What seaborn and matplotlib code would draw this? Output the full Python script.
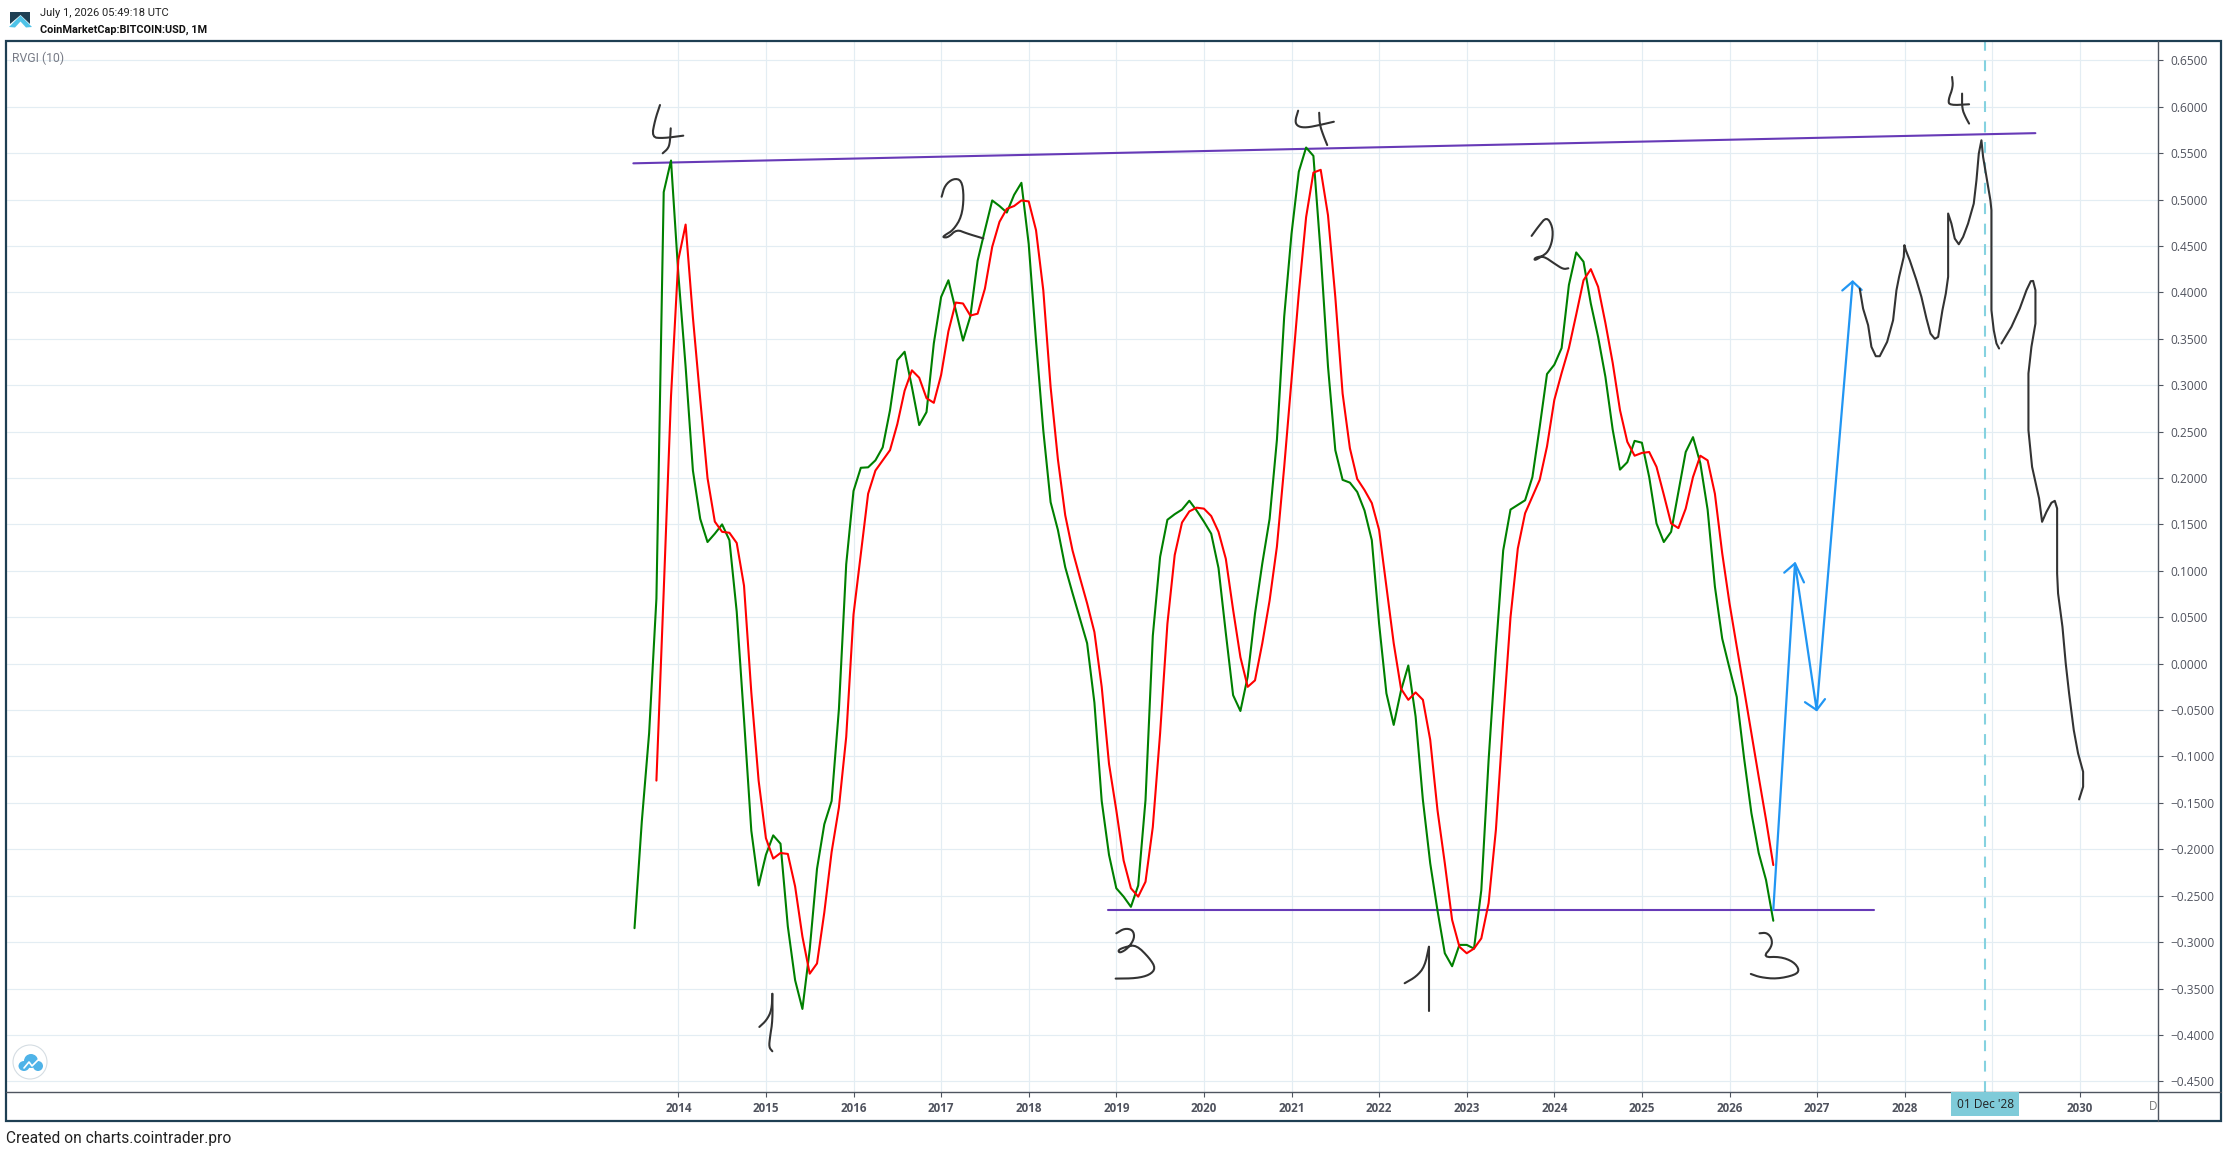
import numpy as np
import pandas as pd
import matplotlib
matplotlib.use("Agg")
import matplotlib.pyplot as plt
from matplotlib.lines import Line2D
from matplotlib.patches import Rectangle, Polygon, Ellipse
import seaborn as sns

# ---- data: monthly RVGI (10), bars counted from Jan 2014 = 0 ----
green_bars_start = -6
green_rvgi = [
    -0.285, -0.17, -0.075, 0.07, 0.508, 0.542,
    0.42, 0.32, 0.208, 0.156, 0.131, 0.14, 0.15, 0.133, 0.056, -0.06, -0.18, -0.239,
    -0.206, -0.185, -0.194, -0.283, -0.341, -0.372, -0.308, -0.221, -0.173, -0.148, -0.049, 0.107,
    0.186, 0.211, 0.2115, 0.219, 0.233, 0.273, 0.327, 0.336, 0.298, 0.257, 0.271, 0.345,
    0.395, 0.413, 0.381, 0.348, 0.374, 0.434, 0.467, 0.499, 0.493, 0.486, 0.505, 0.518,
    0.452, 0.348, 0.251, 0.174, 0.144, 0.104, 0.076, 0.049, 0.022, -0.042, -0.148, -0.206,
    -0.242, -0.251, -0.262, -0.239, -0.147, 0.03, 0.115, 0.155, 0.161, 0.166, 0.1755, 0.165,
    0.153, 0.14, 0.103, 0.033, -0.034, -0.051, -0.014, 0.054, 0.108, 0.156, 0.241, 0.374,
    0.463, 0.53, 0.556, 0.547, 0.442, 0.32, 0.23, 0.198, 0.195, 0.185, 0.165, 0.133,
    0.043, -0.032, -0.066, -0.029, -0.002, -0.057, -0.147, -0.215, -0.266, -0.312, -0.326, -0.303,
    -0.303, -0.307, -0.244, -0.104, 0.015, 0.122, 0.166, 0.171, 0.176, 0.201, 0.255, 0.312,
    0.322, 0.34, 0.408, 0.443, 0.433, 0.388, 0.352, 0.309, 0.252, 0.209, 0.217, 0.24,
    0.238, 0.201, 0.151, 0.131, 0.142, 0.185, 0.228, 0.244, 0.216, 0.166, 0.083, 0.027,
    -0.005, -0.036, -0.102, -0.161, -0.204, -0.233, -0.277,
]
red_bars_start = -3
red_signal = [
    -0.126, 0.078, 0.288,
    0.435, 0.473, 0.373, 0.285, 0.20, 0.153, 0.142, 0.141, 0.13, 0.084, -0.031, -0.126,
    -0.188, -0.21, -0.204, -0.205, -0.24, -0.294, -0.334, -0.323, -0.268, -0.203, -0.155, -0.079,
    0.053, 0.118, 0.183, 0.208, 0.219, 0.23, 0.258, 0.294, 0.316, 0.308, 0.286, 0.281,
    0.311, 0.358, 0.389, 0.388, 0.375, 0.377, 0.404, 0.449, 0.476, 0.49, 0.493, 0.499,
    0.498, 0.467, 0.402, 0.298, 0.22, 0.16, 0.122, 0.093, 0.065, 0.034, -0.025, -0.108,
    -0.158, -0.212, -0.242, -0.251, -0.235, -0.176, -0.075, 0.043, 0.117, 0.152, 0.164, 0.168,
    0.167, 0.159, 0.142, 0.113, 0.058, 0.007, -0.025, -0.018, 0.022, 0.068, 0.126, 0.212,
    0.305, 0.399, 0.481, 0.529, 0.532, 0.483, 0.395, 0.291, 0.232, 0.199, 0.187, 0.173,
    0.144, 0.083, 0.022, -0.027, -0.039, -0.031, -0.039, -0.082, -0.158, -0.215, -0.276, -0.305,
    -0.312, -0.307, -0.296, -0.258, -0.179, -0.061, 0.05, 0.124, 0.162, 0.18, 0.198, 0.234,
    0.284, 0.313, 0.34, 0.376, 0.413, 0.425, 0.406, 0.367, 0.324, 0.273, 0.239, 0.224,
    0.227, 0.228, 0.212, 0.182, 0.151, 0.146, 0.167, 0.201, 0.224, 0.219, 0.183, 0.119,
    0.065, 0.018, -0.028, -0.075, -0.122, -0.168, -0.217,
]

# trend lines (bar, value)
top_line_bars = [-6.16, 185.9]
top_line_vals = [0.539, 0.5715]
low_line_bars = [58.9, 163.8]
low_line_vals = [-0.2655, -0.2655]

# blue arrows
arrow_bars = [150, 152.97, 155.94, 160.87]
arrow_vals = [-0.2654, 0.108, -0.05, 0.4116]
head_a_bars, head_a_vals = [151.5, 152.97, 154.2], [0.098, 0.108, 0.0875]
head_b_bars, head_b_vals = [154.34, 155.94, 157.08], [-0.0415, -0.05, -0.0382]
head_c_bars, head_c_vals = [159.45, 160.87, 162.1], [0.402, 0.4116, 0.4026]

# hand-drawn projection
proj1_bars = [161.84, 162.30, 162.99, 163.44, 164.04, 164.58, 165.59, 166.41, 166.87, 167.23, 167.87,
              167.96, 168.15, 168.69, 169.61, 170.29, 170.98, 171.53, 172.12, 172.58, 173.17, 173.63,
              173.95, 173.95, 174.40, 174.86, 175.41, 176.0, 176.68, 177.46, 177.83, 178.15, 178.51,
              178.74, 179.2, 179.74, 179.88, 179.88, 180.2, 180.57, 180.93]
proj1_vals = [0.404, 0.3825, 0.3646, 0.3413, 0.3312, 0.3312, 0.3466, 0.37, 0.4023, 0.4167, 0.4382,
              0.4508, 0.4454, 0.4346, 0.4131, 0.3951, 0.3718, 0.3556, 0.3499, 0.352, 0.3808, 0.3987,
              0.4167, 0.4849, 0.4741, 0.4579, 0.4518, 0.4597, 0.4741, 0.4956, 0.5208, 0.5495, 0.5638,
              0.5459, 0.5244, 0.4992, 0.4885, 0.3808, 0.3592, 0.3449, 0.3395]
proj2_bars = [181.25, 182.62, 183.76, 184.68, 185.27, 185.59, 185.91, 185.91, 185.36, 184.95, 184.95,
              185.45, 186.41, 186.82, 187.42, 188.1, 188.56, 188.88, 188.88, 189.01, 189.61, 190.06,
              190.52, 191.16, 191.75, 192.44, 192.44, 191.89]
proj2_vals = [0.3449, 0.3628, 0.3825, 0.4023, 0.412, 0.4123, 0.4023, 0.3664, 0.3413, 0.3125, 0.2515,
              0.212, 0.1779, 0.1528, 0.1635, 0.1733, 0.1754, 0.1672, 0.0971, 0.0756, 0.0397, 0.0002,
              -0.0321, -0.0716, -0.0967, -0.1165, -0.1326, -0.1463]

# hand-written wave numbers, one (bars, values) pair per pen stroke
digit_strokes = [
    ([-2.51, -3.19, -3.64, -2.05, 0.68], [0.6018, 0.5857, 0.567, 0.566, 0.5688]),
    ([-1.04, -1.14, -1.37, -2.14], [0.5767, 0.5623, 0.5552, 0.5498]),
    ([36.07, 36.53, 37.67, 38.81, 39.13, 38.81, 37.67, 36.53, 36.21, 36.99, 38.13, 39.5, 41.78],
     [0.503, 0.5155, 0.5227, 0.5209, 0.503, 0.4814, 0.4671, 0.4617, 0.4592, 0.4592, 0.4678, 0.4635, 0.4581]),
    ([12.88, 12.79, 12.1, 11.1], [-0.3557, -0.3732, -0.3841, -0.3914]),
    ([12.88, 12.92, 12.56, 12.42, 12.88], [-0.3557, -0.3841, -0.4023, -0.4132, -0.4176]),
    ([60, 61.14, 62.28, 62.51, 61.6, 60.46, 60.23, 61.37, 62.74, 64.57, 65.39, 64.57, 62.74, 59.91],
     [-0.2905, -0.2851, -0.2869, -0.2959, -0.3067, -0.312, -0.3084, -0.3049, -0.3031, -0.3174, -0.3282,
      -0.3354, -0.339, -0.3393]),
    ([84.91, 84.46, 84.91, 86.05, 87.88, 89.8], [0.5957, 0.5838, 0.5785, 0.5774, 0.5803, 0.5838]),
    ([87.79, 87.88, 88.34, 88.89], [0.5935, 0.5803, 0.5695, 0.5587]),
    ([99.5, 101.1, 102.24, 102.83], [-0.3443, -0.3371, -0.3264, -0.3049]),
    ([102.83, 102.83], [-0.3049, -0.3741]),
    ([116.89, 117.81, 118.95, 119.77, 119.77, 119.18, 118.26, 117.26, 117.35, 118.5, 120.09, 121.23, 121.92],
     [0.4608, 0.4708, 0.4816, 0.4708, 0.4565, 0.4439, 0.4385, 0.4342, 0.4374, 0.4392, 0.4306, 0.4249, 0.4259]),
    ([148.11, 149.11, 149.8, 149.8, 148.57, 150.94, 152.77, 153.59, 153.0, 150.48, 148.2, 146.92],
     [-0.2905, -0.2898, -0.2959, -0.3049, -0.3164, -0.3157, -0.3211, -0.33, -0.3354, -0.3397, -0.3379, -0.3343]),
    ([174.49, 174.63, 173.95, 174.17, 176.82], [0.632, 0.6213, 0.6069, 0.6015, 0.6026]),
    ([175.86, 175.86, 176.32, 176.82], [0.6141, 0.5979, 0.589, 0.5818]),
]

year_labels = ['2014', '2015', '2016', '2017', '2018', '2019', '2020', '2021', '2022',
               '2023', '2024', '2025', '2026', '2027', '2028', '', '2030']
price_ticks = [0.65, 0.60, 0.55, 0.50, 0.45, 0.40, 0.35, 0.30, 0.25, 0.20, 0.15, 0.10, 0.05, 0.0,
               -0.05, -0.10, -0.15, -0.20, -0.25, -0.30, -0.35, -0.40, -0.45]
crosshair_bar = 179
crosshair_label = "01 Dec '28"

# ---- style ----
GRID = '#e3edf3'
AXIS = '#4f5560'
TXT = '#50535e'
FRAME = '#1e3f53'
TEAL = '#7fcbd9'

sns.set_theme(style='white')
plt.rcParams['font.family'] = ['Open Sans', 'DejaVu Sans']

W, H = 2226, 1152
fig = plt.figure(figsize=(W / 100, H / 100), dpi=100, facecolor='white')
fx = lambda x: x / W
fy = lambda y: 1 - y / H

L, R, T, B = 6.5, 2158.3, 40.7, 1092.3
ax = fig.add_axes([fx(L), fy(B), fx(R) - fx(L), fy(T) - fy(B)])
ax.set_facecolor('white')
ax.set_xlim(-92.03, 202.74)
ax.set_ylim(-0.4618, 0.6711)

for s in ax.spines.values():
    s.set_visible(False)

ax.set_xticks(np.arange(len(year_labels)) * 12)
ax.set_xticklabels(year_labels, fontweight='bold', color=TXT, fontsize=8.4)
ax.set_yticks(price_ticks)
ax.set_yticklabels([f"{v:.4f}".replace('-', '\u2212') for v in price_ticks], color=TXT, fontsize=8.6)
ax.yaxis.tick_right()
ax.tick_params(axis='x', length=3.6, width=0.8, color=AXIS, pad=3.5, bottom=True)
ax.tick_params(axis='y', length=3.6, width=0.8, color=AXIS, pad=5, right=True)
ax.grid(True, color=GRID, linewidth=0.85)
ax.set_axisbelow(True)


def stroke(bars, vals, color, lw, z=3):
    sns.lineplot(x=bars, y=vals, color=color, linewidth=lw, sort=False, estimator=None,
                 errorbar=None, ax=ax, zorder=z, legend=False)


def rounded(bars, vals, passes=2):
    """Corner-cut a pen stroke so that it reads as handwriting."""
    p = np.column_stack([bars, vals])
    for _ in range(passes):
        q = [p[0]]
        for a, b in zip(p[:-1], p[1:]):
            q += [0.75 * a + 0.25 * b, 0.25 * a + 0.75 * b]
        q.append(p[-1])
        p = np.array(q)
    return p[:, 0], p[:, 1]


ax.axvline(crosshair_bar, color='#85d2e0', linewidth=1.5, dashes=(5.2, 4.6), zorder=2)

df_green = pd.DataFrame({'bar': np.arange(len(green_rvgi)) + green_bars_start, 'value': green_rvgi})
df_red = pd.DataFrame({'bar': np.arange(len(red_signal)) + red_bars_start, 'value': red_signal})
sns.lineplot(data=df_green, x='bar', y='value', color='#008000', linewidth=1.5, ax=ax, zorder=4,
             estimator=None, errorbar=None)
sns.lineplot(data=df_red, x='bar', y='value', color='#ff0000', linewidth=1.5, ax=ax, zorder=5,
             estimator=None, errorbar=None)

stroke(top_line_bars, top_line_vals, '#673ab7', 1.5)
stroke(low_line_bars, low_line_vals, '#673ab7', 1.5)

BLUE = '#2196f3'
stroke(arrow_bars, arrow_vals, BLUE, 1.6, 6)
stroke(head_a_bars, head_a_vals, BLUE, 1.6, 6)
stroke(head_b_bars, head_b_vals, BLUE, 1.6, 6)
stroke(head_c_bars, head_c_vals, BLUE, 1.6, 6)

INK = '#333333'
stroke(proj1_bars, proj1_vals, INK, 1.5, 6)
stroke(proj2_bars, proj2_vals, INK, 1.5, 6)
for b, v in digit_strokes:
    rb, rv = rounded(b, v)
    stroke(rb, rv, INK, 1.5, 6)

ax.set_xlabel('')
ax.set_ylabel('')
for ln in ax.lines:
    ln.set_solid_capstyle('round')
    ln.set_solid_joinstyle('round')

# pane frame, axis lines
fig.add_artist(Rectangle((fx(6), fy(1120.7)), fx(2220.7) - fx(6), fy(40.7) - fy(1120.7), fill=False,
                         edgecolor=FRAME, linewidth=1.6, transform=fig.transFigure, zorder=3))
fig.add_artist(Line2D([fx(6), fx(2220.7)], [fy(B), fy(B)], color=AXIS, linewidth=1.0, zorder=3))
fig.add_artist(Line2D([fx(R), fx(R)], [fy(T), fy(1120.7)], color=AXIS, linewidth=1.0, zorder=3))

# crosshair label
fig.add_artist(Rectangle((fx(1951), fy(1116)), fx(68), fy(B) - fy(1116), facecolor=TEAL, edgecolor='none',
                         transform=fig.transFigure, zorder=4))
fig.text(fx(1985.3), fy(1105), crosshair_label, ha='center', va='center', fontsize=8.6, color='#222222', zorder=5)
fig.text(fx(2157), fy(1107), 'D', ha='right', va='center', fontsize=8.4, color='#777777', zorder=5)

# header
fig.text(fx(40), fy(13), 'July 1, 2026 05:49:18 UTC', family=['Roboto', 'DejaVu Sans'], fontsize=8.0,
         color='#222222', va='center')
fig.text(fx(40), fy(30), 'CoinMarketCap:BITCOIN:USD, 1M', family=['Roboto', 'DejaVu Sans'], fontsize=7.8,
         fontweight='bold', color='#111111', va='center')
fig.text(fx(12), fy(58), 'RVGI (10)', family=['Roboto', 'DejaVu Sans'], fontsize=8.8, color='#787b86', va='center')
fig.text(fx(6), fy(1138.5), 'Created on charts.cointrader.pro', family=['Roboto', 'DejaVu Sans'], fontsize=11.2,
         color='#222222', va='center')

# logo
def poly(pts, color, z=6):
    fig.add_artist(Polygon([(fx(x), fy(y)) for x, y in pts], closed=True, facecolor=color, edgecolor='none',
                           transform=fig.transFigure, zorder=z))

poly([(10, 12), (30, 12), (30, 24), (20.5, 15), (10, 24)], '#1e3f53')
poly([(9, 27), (20.5, 15.5), (32, 27), (26, 27.5), (20.5, 21.5), (15, 27.5)], '#4fc3e8')

# cloud badge
fig.add_artist(Ellipse((fx(30), fy(1062)), 34 / W, 34 / H, facecolor='white', edgecolor='#d5dde3',
                       linewidth=0.8, transform=fig.transFigure, zorder=6))
CLOUD = '#4fb3e8'
fig.add_artist(Ellipse((fx(24), fy(1066)), 11 / W, 10 / H, facecolor=CLOUD, edgecolor='none',
                       transform=fig.transFigure, zorder=7))
fig.add_artist(Ellipse((fx(31), fy(1061)), 14 / W, 14 / H, facecolor=CLOUD, edgecolor='none',
                       transform=fig.transFigure, zorder=7))
fig.add_artist(Ellipse((fx(38), fy(1066)), 10 / W, 10 / H, facecolor=CLOUD, edgecolor='none',
                       transform=fig.transFigure, zorder=7))
fig.add_artist(Line2D([fx(24), fx(29), fx(32), fx(38)], [fy(1068), fy(1062), fy(1066), fy(1060)],
                      color='white', linewidth=1.2, zorder=8))

fig.savefig('out.png', dpi=100, facecolor='white')
